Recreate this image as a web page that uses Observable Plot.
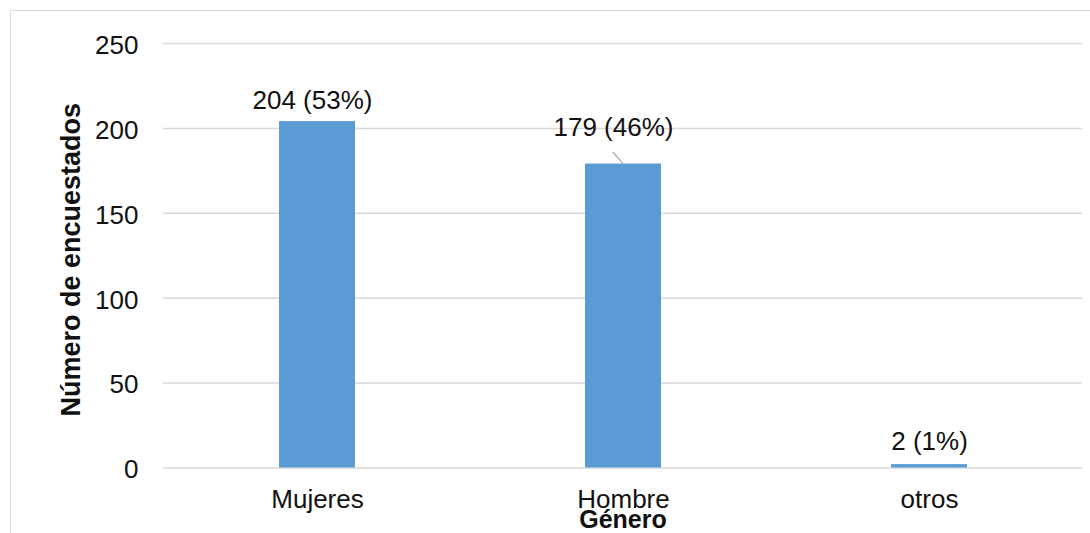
<!DOCTYPE html>
<html>
<head>
<meta charset="utf-8">
<script src="https://cdn.jsdelivr.net/npm/d3@7"></script>
<script src="https://cdn.jsdelivr.net/npm/@observablehq/plot@0.6"></script>
<style>
  html, body { margin: 0; padding: 0; background: #fff; }
  #wrap { position: relative; width: 1090px; height: 533px; overflow: hidden; }
  #border { position: absolute; left: 10px; top: 10px; right: -2px; bottom: -2px;
            border-left: 1.5px solid #d9d9d9; border-top: 1.5px solid #d9d9d9; }
  #chart { position: absolute; left: 0; top: 0; }
  #chart text { font-family: "Liberation Sans", Arial, sans-serif; }
</style>
</head>
<body>
<div id="wrap"><div id="border"></div><div id="chart"></div></div>
<script>
// Encuestados por género
const categories = ["Mujeres", "Hombre", "otros"];
const counts = [204, 179, 2];
const percents = ["53%", "46%", "1%"];
const yTicks = [0, 50, 100, 150, 200, 250];
const xTitle = "Género";
const yTitle = "Número de encuestados";

const data = categories.map((c, i) => ({
  cat: c,
  value: counts[i],
  label: `${counts[i]} (${percents[i]})`
}));

// label placement relative to the top of each bar (pixels)
const labelOffset = {Mujeres: [-5, -21], Hombre: [-10, -36], otros: [0, -23]};

const font = "Liberation Sans, Arial, sans-serif";
const ink = "#111";

const chart = Plot.plot({
  width: 1090,
  height: 533,
  marginLeft: 163,
  marginRight: 8,
  marginTop: 43,
  marginBottom: 65.5,
  style: {fontFamily: font, fontSize: "26px", color: ink, background: "transparent", overflow: "visible"},
  x: {domain: categories, paddingInner: 0.752, paddingOuter: 0.376},
  y: {domain: [0, 250]},
  marks: [
    Plot.gridY(yTicks, {stroke: "#d9d9d9", strokeOpacity: 1, strokeWidth: 1.5}),
    Plot.barY(data, {x: "cat", y: "value", fill: "#5B9BD5"}),
    Plot.axisY({ticks: yTicks, tickSize: 0, tickPadding: 25, label: null, fontSize: 26, fill: ink, dy: 2}),
    Plot.axisX({tickSize: 0, tickPadding: 21.5, label: null, fontSize: 26, fill: ink}),
    // leader line from the "Hombre" bar to its label
    Plot.vector(data.filter(d => d.cat === "Hombre"), {
      x: "cat", y: "value", length: 16, rotate: -42, anchor: "start",
      stroke: "#a6a6a6", strokeWidth: 1.2,
      shape: {draw(context, l) { context.moveTo(0, 0); context.lineTo(0, -l); }}
    }),
    ...categories.map(c => Plot.text(data.filter(d => d.cat === c), {
      x: "cat", y: "value", text: "label",
      dx: labelOffset[c][0], dy: labelOffset[c][1],
      fontSize: 26, fill: ink, lineAnchor: "middle"
    })),
    Plot.text([yTitle], {
      frameAnchor: "left", dx: -92, dy: 4, rotate: -90,
      fontSize: 27, fontWeight: "bold", fill: ink, textAnchor: "middle"
    }),
    Plot.text([xTitle], {
      frameAnchor: "bottom", dy: 52,
      fontSize: 25, fontWeight: "bold", fill: ink, lineAnchor: "middle"
    })
  ]
});

document.getElementById("chart").appendChild(chart);
</script>
</body>
</html>
